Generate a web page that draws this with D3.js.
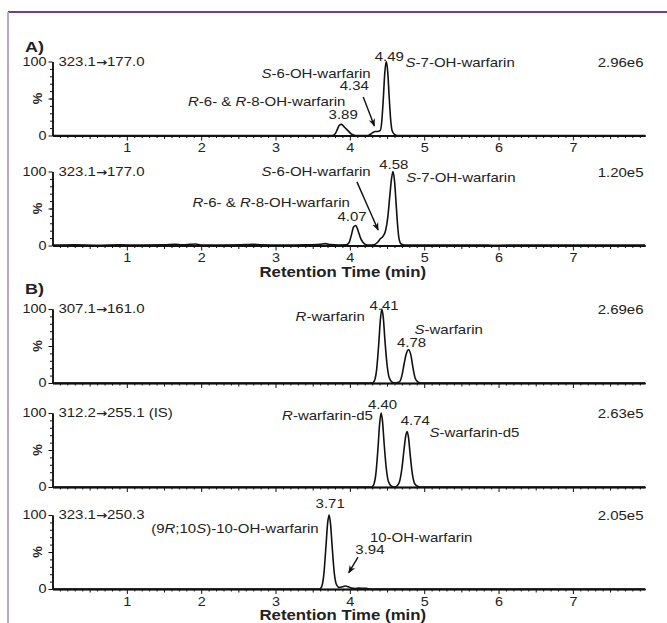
<!DOCTYPE html>
<html>
<head>
<meta charset="utf-8">
<title>Warfarin chromatograms</title>
<script src="https://d3js.org/d3.v7.min.js"></script>
<style>
  body { margin: 0; background: #fff; }
  svg { display: block; font-family: "Liberation Sans", Arial, sans-serif; }
  .axis .domain { stroke: #111; stroke-width: 1.5; }
  .axis line { stroke: #111; stroke-width: 1; }
  .axis text { font-size: 12px; fill: #222; font-family: "Liberation Sans", Arial, sans-serif; }
  .trace { fill: none; stroke: #111; stroke-width: 1.6; stroke-linejoin: round; }
</style>
</head>
<body>
<div id="chart"></div>
<script>
// retention time (min) and relative intensity (%)
const a1Time = [0, 3.76, 3.80, 3.83, 3.86, 3.89, 3.92, 3.95, 3.98, 4.01, 4.04, 4.08, 4.24, 4.28, 4.31, 4.34, 4.37, 4.41, 4.43, 4.45, 4.47, 4.49, 4.51, 4.53, 4.55, 4.57, 4.60, 4.64, 7.97];
const a1Pct  = [0, 0, 2, 8, 14, 15, 12, 9, 6, 3, 1, 0, 0, 2, 4, 5.5, 5.5, 7, 20, 50, 85, 100, 85, 50, 20, 6, 1.5, 0, 0];

const a2Time = [0, 0.3, 0.6, 0.9, 1.2, 1.5, 1.65, 1.75, 1.85, 1.92, 2.0, 2.3, 2.6, 2.7, 2.8, 3.1, 3.4, 3.6, 3.67, 3.74, 3.85, 3.95, 3.99, 4.02, 4.05, 4.08, 4.11, 4.14, 4.17, 4.21, 4.26, 4.32, 4.37, 4.41, 4.45, 4.48, 4.51, 4.54, 4.56, 4.58, 4.60, 4.62, 4.64, 4.66, 4.69, 4.74, 5.0, 5.5, 6.0, 6.5, 7.0, 7.5, 7.97];
const a2Pct  = [0.5, 0.8, 0.4, 0.9, 0.6, 0.8, 1.6, 0.8, 1.5, 2.0, 0.6, 0.7, 1.2, 1.6, 0.9, 0.6, 0.9, 1.6, 2.5, 1.2, 0.6, 0.8, 4, 14, 25, 27, 20, 11, 5, 1.5, 0.6, 1, 4, 9, 13, 20, 38, 70, 90, 100, 88, 60, 30, 10, 2, 0.6, 0.5, 0.7, 0.4, 0.6, 0.5, 0.7, 0.5];

const b1Time = [0, 4.30, 4.33, 4.36, 4.39, 4.41, 4.43, 4.45, 4.47, 4.50, 4.53, 4.57, 4.61, 4.64, 4.67, 4.70, 4.73, 4.76, 4.79, 4.82, 4.85, 4.88, 4.92, 4.96, 7.97];
const b1Pct  = [0, 0, 3, 18, 55, 85, 100, 88, 60, 25, 7, 1, 0, 0.5, 2, 10, 26, 40, 45, 38, 20, 6, 1, 0, 0];

const b2Time = [0, 4.29, 4.32, 4.35, 4.38, 4.40, 4.42, 4.44, 4.46, 4.49, 4.52, 4.56, 4.60, 4.64, 4.67, 4.70, 4.73, 4.75, 4.77, 4.79, 4.81, 4.84, 4.87, 4.91, 4.95, 7.97];
const b2Pct  = [0, 0, 3, 18, 55, 85, 100, 88, 60, 25, 7, 1, 0, 2, 8, 25, 52, 68, 75, 66, 45, 18, 5, 1, 0, 0];

const b3Time = [0, 3.59, 3.62, 3.65, 3.68, 3.70, 3.72, 3.74, 3.76, 3.79, 3.82, 3.86, 3.90, 3.94, 3.98, 4.02, 4.07, 4.12, 4.17, 4.22, 4.28, 7.97];
const b3Pct  = [0, 0, 3, 20, 60, 88, 100, 88, 60, 22, 6, 2, 3, 4, 3, 1.2, 0.5, 1.2, 1, 0.8, 0, 0];

const transitions = ["323.1→177.0", "323.1→177.0", "307.1→161.0", "312.2→255.1 (IS)", "323.1→250.3"];
const maxCounts = ["2.96e6", "1.20e5", "2.69e6", "2.63e5", "2.05e5"];
const xTicks = [1, 2, 3, 4, 5, 6, 7];
const yTicks = [0, 100];

// peak labels: [time, %, text, anchor]; _x_ = italic
const notes = [
  [[4.53, 101, "4.49", "middle"], [4.75, 93, "_S_-7-OH-warfarin", "start"],
   [4.28, 78, "_S_-6-OH-warfarin", "end"], [4.06, 61, "4.34", "middle"],
   [3.94, 40, "_R_-6- & _R_-8-OH-warfarin", "end"], [3.91, 22, "3.89", "middle"]],
  [[4.59, 104, "4.58", "middle"], [4.76, 86, "_S_-7-OH-warfarin", "start"],
   [4.28, 94, "_S_-6-OH-warfarin", "end"], [4.0, 52, "_R_-6- & _R_-8-OH-warfarin", "end"],
   [4.03, 33, "4.07", "middle"]],
  [[4.46, 99, "4.41", "middle"], [4.20, 84, "_R_-warfarin", "end"],
   [4.87, 66, "_S_-warfarin", "start"], [4.83, 48, "4.78", "middle"]],
  [[4.44, 105, "4.40", "middle"], [4.31, 90, "_R_-warfarin-d5", "end"],
   [4.88, 84, "4.74", "middle"], [5.07, 67, "_S_-warfarin-d5", "start"]],
  [[3.735, 109, "3.71", "middle"], [3.58, 76, "(9_R_;10_S_)-10-OH-warfarin", "end"],
   [4.27, 64, "10-OH-warfarin", "start"], [4.27, 47, "3.94", "middle"]]
];
// arrows: [time from, % from, time to, % to]
const arrows = [[[4.18, 52, 4.33, 13]], [[4.095, 86, 4.38, 21]], [], [], [[4.11, 43, 3.985, 22]]];

const traces = [[a1Time, a1Pct], [a2Time, a2Pct], [b1Time, b1Pct], [b2Time, b2Pct], [b3Time, b3Pct]];

// layout
const W = 667, H = 623;
const panelBase = [135.5, 245.5, 383, 487, 589];
const plotH = 74;
const showXLabels = [true, true, false, false, true];
const showTitle = [false, true, false, false, true];
const SX = 1.2; // the figure's lettering is stretched horizontally

const svg = d3.select("#chart").append("svg")
  .attr("width", W).attr("height", H);

svg.append("defs").append("marker")
  .attr("id", "head")
  .attr("viewBox", "0 0 10 10")
  .attr("refX", 9).attr("refY", 5)
  .attr("markerUnits", "userSpaceOnUse")
  .attr("markerWidth", 8).attr("markerHeight", 8)
  .attr("orient", "auto")
  .append("path").attr("d", "M0,1 L10,5 L0,9 L3,5 z").attr("fill", "#111");

// frame lines of the figure
svg.append("line").attr("x1", 8).attr("x2", W).attr("y1", 12).attr("y2", 12)
  .attr("stroke", "#6b3fa0").attr("stroke-width", 2);
svg.append("line").attr("x1", 8).attr("x2", 8).attr("y1", 12).attr("y2", H)
  .attr("stroke", "#b9a7da").attr("stroke-width", 2);

const x = d3.scaleLinear().domain([0, 7.97]).range([52.5, 645]);

function label(g, px, py, str, anchor, size, weight) {
  const t = g.append("text")
    .attr("transform", `translate(${px},${py}) scale(${SX},1)`)
    .attr("text-anchor", anchor || "start")
    .style("font-size", (size || 12.5) + "px")
    .style("font-weight", weight || null)
    .attr("fill", "#222");
  str.split("_").forEach((s, i) => {
    s.split(/(→)/).forEach(part => {
      if (!part) return;
      const ts = t.append("tspan").style("font-style", i % 2 ? "italic" : null).text(part);
      if (part === "→") ts.style("font-family", "'DejaVu Sans', sans-serif").style("font-weight", "bold").style("font-size", "11px");
    });
  });
  return t;
}

label(svg, 25, 52, "A)", "start", 15, "bold");
label(svg, 25, 294, "B)", "start", 15, "bold");

const minorX = d3.range(1, 80).map(d => d / 10).filter(d => d % 0.5 > 0.01 && d % 0.5 < 0.49);
const halfX = d3.range(1, 16).map(d => d / 2).filter(d => d % 1 !== 0);

traces.forEach((tr, i) => {
  const base = panelBase[i];
  const y = d3.scaleLinear().domain([0, 100]).range([base, base - plotH]);
  const g = svg.append("g");

  // x axis: minor, half and whole-minute ticks
  g.append("g").attr("class", "axis").attr("transform", `translate(0,${base})`)
    .call(d3.axisBottom(x).tickValues(minorX).tickSize(2.5).tickFormat("").tickSizeOuter(0));
  g.append("g").attr("class", "axis").attr("transform", `translate(0,${base})`)
    .call(d3.axisBottom(x).tickValues(halfX).tickSize(3.5).tickFormat("").tickSizeOuter(0));
  const xa = g.append("g").attr("class", "axis").attr("transform", `translate(0,${base})`)
    .call(d3.axisBottom(x).tickValues(xTicks).tickSize(5).tickPadding(3)
      .tickFormat(showXLabels[i] ? d3.format("d") : "").tickSizeOuter(0));
  xa.selectAll("text").attr("transform", `scale(${SX},1)`);

  // y axis
  g.append("g").attr("class", "axis").attr("transform", "translate(52.5,0)")
    .call(d3.axisLeft(y).tickValues(d3.range(10, 100, 10)).tickSize(2.5).tickFormat("").tickSizeOuter(0));
  const ya = g.append("g").attr("class", "axis").attr("transform", "translate(52.5,0)")
    .call(d3.axisLeft(y).tickValues(yTicks.concat([50])).tickSize(4).tickPadding(1)
      .tickFormat(d => d === 50 ? "" : d).tickSizeOuter(0));
  ya.selectAll("text").attr("transform", `scale(${SX},1)`);

  svg.append("text")
    .attr("transform", `translate(42,${y(50)}) rotate(-90)`)
    .attr("text-anchor", "middle")
    .style("font-size", "13px").style("font-weight", "bold")
    .attr("fill", "#222").text("%");

  // trace
  g.append("path").attr("class", "trace")
    .datum(d3.zip(tr[0], tr[1]))
    .attr("d", d3.line().x(d => x(d[0])).y(d => y(d[1])).curve(d3.curveMonotoneX));

  // header labels
  label(g, x(0.08), y(94), transitions[i], "start", 12.5);
  label(g, x(7.95), y(93), maxCounts[i], "end", 12.5);

  notes[i].forEach(n => label(g, x(n[0]), y(n[1]), n[2], n[3], 12.5));

  arrows[i].forEach(a => {
    g.append("line")
      .attr("x1", x(a[0])).attr("y1", y(a[1]))
      .attr("x2", x(a[2])).attr("y2", y(a[3]))
      .attr("stroke", "#111").attr("stroke-width", 1.4)
      .attr("marker-end", "url(#head)");
  });

  if (showTitle[i]) {
    label(g, (x.range()[0] + x.range()[1]) / 2 - 6, base + 31, "Retention Time (min)", "middle", 14, "bold");
  }
});
</script>
</body>
</html>
